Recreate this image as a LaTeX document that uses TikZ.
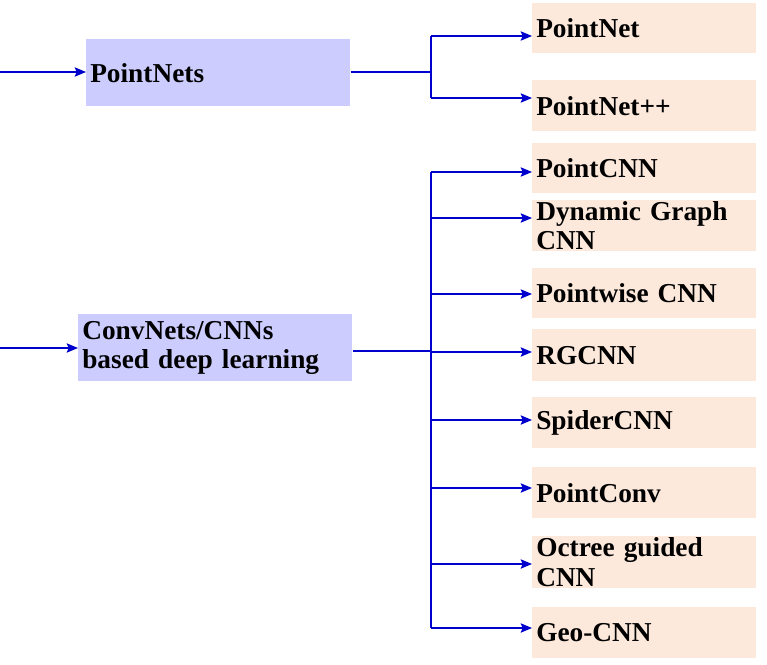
\documentclass[tikz,border=0pt]{standalone}
\usepackage{fontspec}
\setmainfont{Liberation Serif}
\usetikzlibrary{arrows.meta}
\definecolor{lav}{HTML}{CCCCFF}
\definecolor{peach}{HTML}{FDE9DC}
\definecolor{arr}{HTML}{0000CC}
\begin{document}
\begin{tikzpicture}[x=0.75pt,y=-0.75pt,
  font=\fontsize{20.5}{22}\selectfont\bfseries,
  mainbox/.style={fill=lav, inner xsep=3pt, inner ysep=0pt, anchor=north west, align=left},
  leaf/.style={fill=peach, inner xsep=3pt, inner ysep=0pt, anchor=north west,
    minimum width=168pt, text width=162pt, align=left},
  conn/.style={draw=arr, line width=1.1pt},
  arrowc/.style={conn, -{Stealth[length=8.5pt,width=7pt,inset=1.5pt]}}]
\useasboundingbox (0,0) rectangle (767,664);
% main boxes
\node[mainbox, minimum width=198pt, minimum height=50.25pt, text width=192pt] (pnets) at (86,39) {PointNets};
\node[mainbox, minimum width=205.5pt, minimum height=50.25pt, text width=199.5pt] (conv) at (78,314) {ConvNets/CNNs\\based deep learning};
% leaves
\node[leaf, minimum height=37.5pt] (pn) at (532,3) {PointNet};
\node[leaf, minimum height=38.25pt] (pnpp) at (532,80) {PointNet++};
\node[leaf, minimum height=37.5pt] (pcnn) at (532,143) {PointCNN};
\node[leaf, minimum height=38.25pt] (dg) at (532,200) {Dynamic Graph\\CNN};
\node[leaf, minimum height=37.5pt] (pw) at (532,268) {Pointwise CNN};
\node[leaf, minimum height=39pt] (rg) at (532,329) {RGCNN};
\node[leaf, minimum height=38.25pt] (sp) at (532,397) {SpiderCNN};
\node[leaf, minimum height=38.25pt] (pc) at (532,467) {PointConv};
\node[leaf, minimum height=39pt] (oc) at (532,536) {Octree guided\\CNN};
\node[leaf, minimum height=38.25pt] (geo) at (532,607) {Geo-CNN};
% inputs
\coordinate (in1) at (0,72);
\coordinate (in2) at (0,348);
\draw[arrowc] (in1) -- (in1 -| pnets.west);
\draw[arrowc] (in2) -- (in2 -| conv.west);
% top branch
\coordinate (j1) at (431,72);
\coordinate (a1) at (431,36);
\coordinate (a2) at (431,98);
\draw[conn] (pnets.east |- j1) -- (j1);
\draw[conn] (a1) -- (a2);
\draw[arrowc] (a1) -- (a1 -| pn.west);
\draw[arrowc] (a2) -- (a2 -| pnpp.west);
% bottom branch
\coordinate (j2) at (431,351);
\coordinate (b1) at (431,172);
\coordinate (b2) at (431,218);
\coordinate (b3) at (431,294);
\coordinate (b4) at (431,352);
\coordinate (b5) at (431,420);
\coordinate (b6) at (431,488);
\coordinate (b7) at (431,564);
\coordinate (b8) at (431,628);
\draw[conn] (conv.east |- j2) -- (j2);
\draw[conn] (b1) -- (b8);
\draw[arrowc] (b1) -- (b1 -| pcnn.west);
\draw[arrowc] (b2) -- (b2 -| dg.west);
\draw[arrowc] (b3) -- (b3 -| pw.west);
\draw[arrowc] (b4) -- (b4 -| rg.west);
\draw[arrowc] (b5) -- (b5 -| sp.west);
\draw[arrowc] (b6) -- (b6 -| pc.west);
\draw[arrowc] (b7) -- (b7 -| oc.west);
\draw[arrowc] (b8) -- (b8 -| geo.west);
\end{tikzpicture}
\end{document}
